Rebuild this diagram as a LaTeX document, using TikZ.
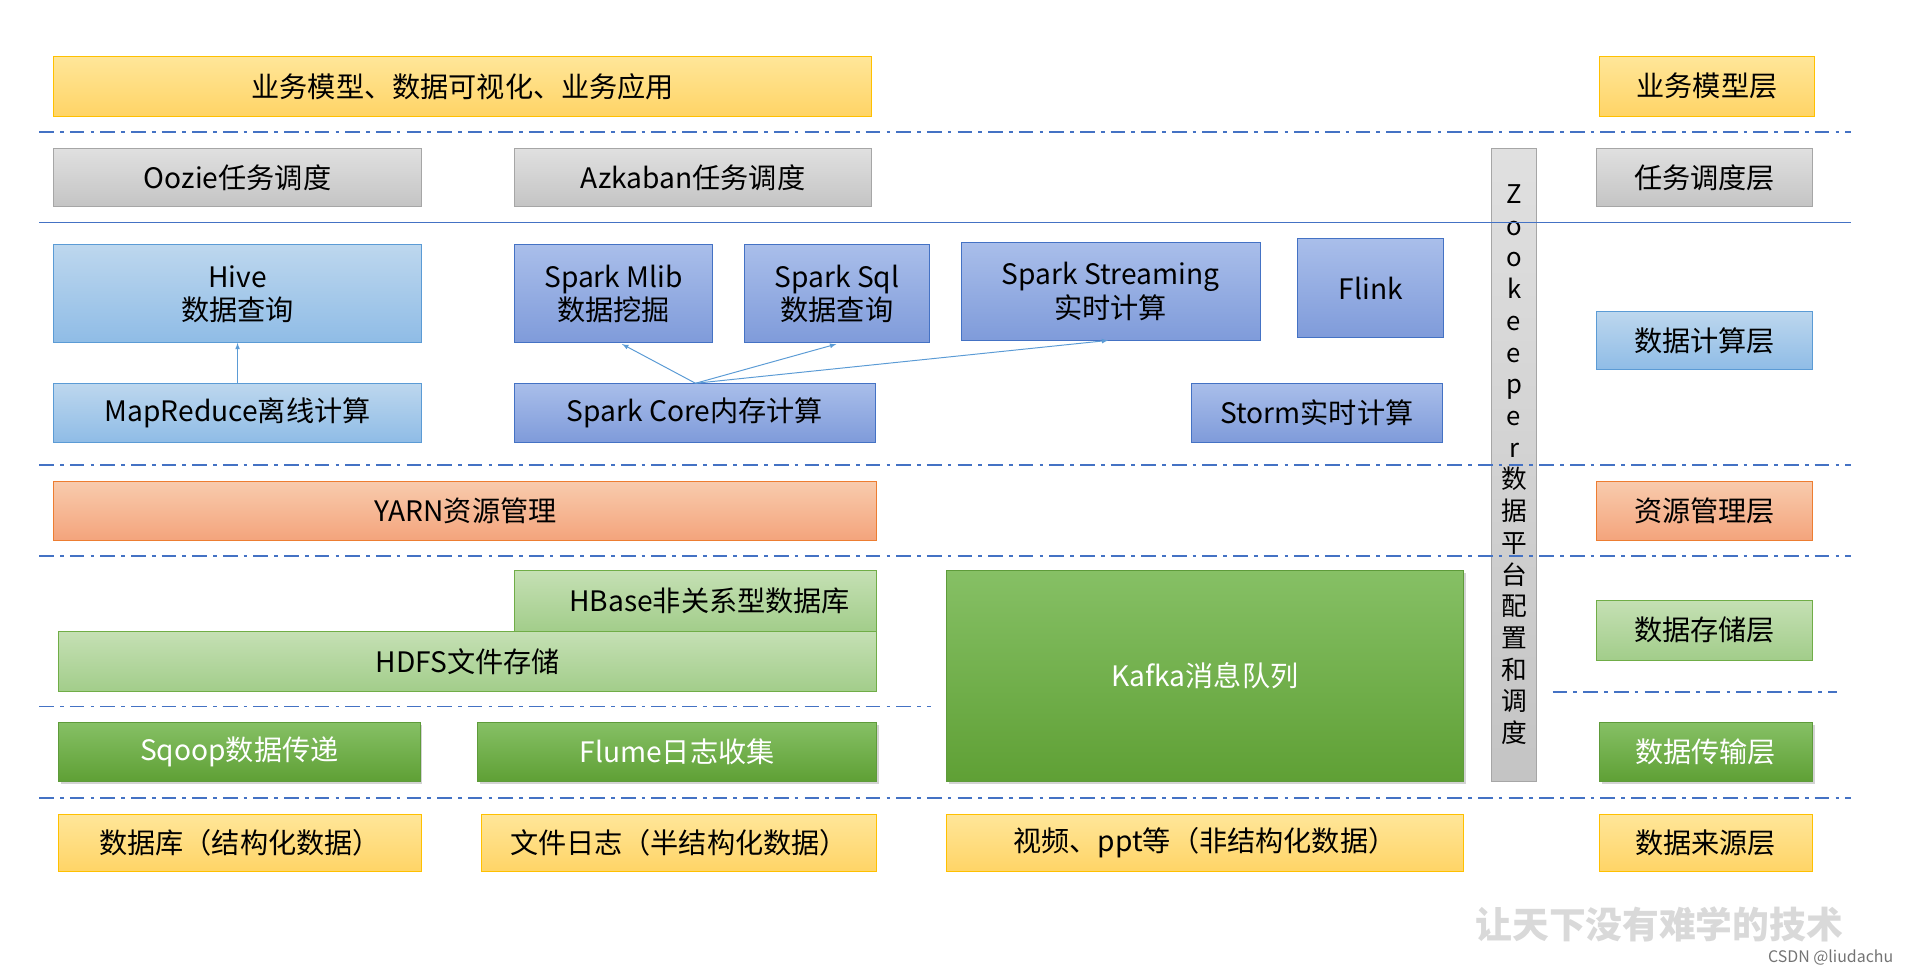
\documentclass[tikz,border=0pt]{standalone}
\usepackage{fontspec}
\setmainfont{Noto Sans CJK SC}
\usetikzlibrary{shadows}
\definecolor{y1}{HTML}{FFE699}\definecolor{y2}{HTML}{FFD466}\definecolor{yb}{HTML}{FFC000}
\definecolor{g1}{HTML}{E0E0E0}\definecolor{g2}{HTML}{C4C4C4}\definecolor{gb}{HTML}{A6A6A6}
\definecolor{lb1}{HTML}{BDD7EE}\definecolor{lb2}{HTML}{8FBCE6}\definecolor{lbb}{HTML}{5B9BD5}
\definecolor{pb1}{HTML}{A9BEEA}\definecolor{pb2}{HTML}{7F9BDA}\definecolor{pbb}{HTML}{4472C4}
\definecolor{s1}{HTML}{F8CBAD}\definecolor{s2}{HTML}{F4A47C}\definecolor{sb}{HTML}{ED7D31}
\definecolor{lg1}{HTML}{C5E0B4}\definecolor{lg2}{HTML}{A2CD8A}\definecolor{lgb}{HTML}{70AD47}
\definecolor{dg1}{HTML}{86C065}\definecolor{dg2}{HTML}{5FA035}\definecolor{dgb}{HTML}{5E9B3A}
\definecolor{ln}{HTML}{4472C4}
\newcommand\bx[7]{\node[#6, minimum width={(#4-#2)*1pt}, minimum height={(#5-#3)*1pt}] (#1) at ({(#2+#4)/2},{(#3+#5)/2}) {#7};}
\begin{document}
\begin{tikzpicture}[x=1pt,y=-1pt,
  base/.style={draw,inner sep=0pt,outer sep=0pt,font=\fontsize{23}{27}\selectfont,align=center,line width=0.8pt},
  yel/.style={base,draw=yb,top color=y1,bottom color=y2},
  gry/.style={base,draw=gb,top color=g1,bottom color=g2},
  lbl/.style={base,draw=lbb,top color=lb1,bottom color=lb2},
  pbl/.style={base,draw=pbb,top color=pb1,bottom color=pb2},
  sal/.style={base,draw=sb,top color=s1,bottom color=s2},
  lgr/.style={base,draw=lgb,top color=lg1,bottom color=lg2},
  dgr/.style={base,draw=dgb,top color=dg1,bottom color=dg2,text=white,drop shadow={opacity=0.35,shadow xshift=2pt,shadow yshift=-2pt}},
  dd/.style={draw=ln,line width=1.5pt,dash pattern=on 12pt off 5pt on 3pt off 5pt},
  arr/.style={draw=lbb,line width=0.8pt,-latex}]
\useasboundingbox (0,0) rectangle (1568,796);
\bx{ywmx}{44}{46}{712}{95}{yel}{业务模型、数据可视化、业务应用}
\bx{l1}{1306}{46}{1482}{95}{yel}{业务模型层}
\bx{oozie}{44}{121}{344}{169}{gry}{Oozie任务调度}
\bx{azk}{420}{121}{712}{169}{gry}{Azkaban任务调度}
\bx{l2}{1304}{121}{1480}{169}{gry}{任务调度层}
\bx{zk}{1218}{121}{1255}{638}{gry}{}
\node[font=\fontsize{21}{25.9}\selectfont,align=center] (zkt) at (zk.center) {Z\\o\\o\\k\\e\\e\\p\\e\\r\\数\\据\\平\\台\\配\\置\\和\\调\\度};
\bx{hive}{44}{200}{344}{280}{lbl}{Hive\\数据查询}
\bx{mr}{44}{313}{344}{361}{lbl}{MapReduce离线计算}
\bx{mlib}{420}{200}{582}{280}{pbl}{Spark Mlib\\数据挖掘}
\bx{sql}{608}{200}{759}{280}{pbl}{Spark Sql\\数据查询}
\bx{stream}{785}{198}{1029}{278}{pbl}{Spark Streaming\\实时计算}
\bx{flink}{1060}{195}{1179}{276}{pbl}{Flink}
\bx{core}{420}{313}{715}{361}{pbl}{Spark Core内存计算}
\bx{storm}{973}{313}{1178}{361}{pbl}{Storm实时计算}
\bx{l3}{1304}{254}{1480}{302}{lbl}{数据计算层}
\bx{yarn}{44}{393}{716}{441}{sal}{YARN资源管理}
\bx{l4}{1304}{393}{1480}{441}{sal}{资源管理层}
\bx{hbase}{420}{466}{716}{516}{lgr}{\hspace*{1em}HBase非关系型数据库}
\bx{hdfs}{48}{516}{716}{565}{lgr}{HDFS文件存储}
\bx{kafka}{773}{466}{1195}{638}{dgr}{Kafka消息队列}
\bx{l5}{1304}{490}{1480}{539}{lgr}{数据存储层}
\bx{sqoop}{48}{590}{343}{638}{dgr}{Sqoop数据传递}
\bx{flume}{390}{590}{716}{638}{dgr}{Flume日志收集}
\bx{l6}{1306}{590}{1480}{638}{dgr}{数据传输层}
\bx{db}{48}{665}{344}{712}{yel}{数据库（结构化数据）}
\bx{log}{393}{665}{716}{712}{yel}{文件日志（半结构化数据）}
\bx{vid}{773}{665}{1195}{712}{yel}{视频、ppt等（非结构化数据）}
\bx{l7}{1306}{665}{1480}{712}{yel}{数据来源层}
\coordinate (c) at (568,313);
\draw[arr] (mr.north) -- (hive.south);
\draw[arr] (c) -- (508,281);
\draw[arr] (c) -- (683,281);
\draw[arr] (c) -- (905,278);
\draw[dd] (32,108) -- (1512,108);
\draw[draw=ln,line width=0.7pt] (32,182) -- (1512,182);
\draw[dd] (32,380) -- (1512,380);
\draw[dd] (32,454) -- (1512,454);
\draw[dd] (32,577) -- (760,577);
\draw[dd] (1268,565) -- (1500,565);
\draw[dd] (32,652) -- (1512,652);
\node[text=black!15,font=\fontsize{30}{30}\selectfont\bfseries] (wm) at (1355,755) {让天下没有难学的技术};
\node[text=black!55,font=\fontsize{13}{13}\selectfont] (csdn) at (1495,782) {CSDN @liudachu};
\end{tikzpicture}
\end{document}
